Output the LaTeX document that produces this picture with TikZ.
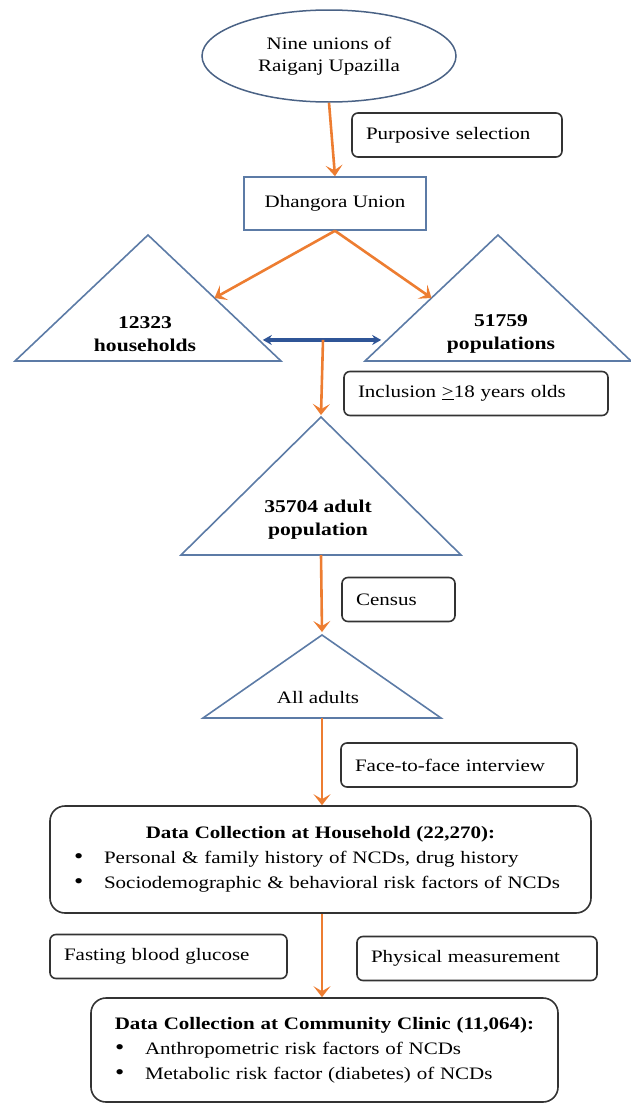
\documentclass[tikz,border=0pt]{standalone}
\usepackage{fontspec}
\setmainfont{Liberation Serif}[FakeStretch=1.2]
\usetikzlibrary{shapes.geometric,arrows.meta,calc}
\usepackage{xcolor}
\definecolor{pfeilorange}{HTML}{ED7D31}
\definecolor{rahmenblau}{HTML}{5C7BA6}
\definecolor{doppelblau}{HTML}{2F5597}

\newcommand\punkt{\hspace*{14pt}\makebox[30pt][l]{\fontsize{22}{0}\selectfont\textbullet}}

\begin{document}
\begin{tikzpicture}[x=1pt,y=-1pt,>={Stealth[length=11pt,width=17pt,inset=5pt]},
  schrift/.style={font=\fontsize{17.5}{22}\selectfont},
  kasten/.style={schrift, draw=black!80, line width=1.6pt, rounded corners=6pt, align=left,
    inner xsep=14pt, inner ysep=0pt, minimum height=44pt},
  gross/.style={draw=black!80, line width=1.6pt, rounded corners=15pt, align=left,
    inner xsep=10pt, inner ysep=0pt, font=\fontsize{17.5}{25}\selectfont},
  dreieck/.style={draw=rahmenblau, line width=1.6pt, line join=miter},
  pfeil/.style={->, draw=pfeilorange, line width=2.6pt},
  fett/.style={font=\fontsize{18}{23}\selectfont\bfseries, align=center}]

\useasboundingbox (0,0) rectangle (631,1103);

%Auswahl der Union
\node[ellipse, draw=rahmenblau!80!black, line width=1.5pt, minimum width=254pt, minimum height=92pt,
  inner sep=0pt, schrift, align=center] (neun) at (329,56) {Nine unions of\\Raiganj Upazilla};
\node[kasten, text width=182pt] (zweck) at (457,135) {Purposive selection};
\node[draw=rahmenblau, line width=1.6pt, minimum width=182pt, minimum height=53pt, schrift] (dhangora) at (335,203.5) {Dhangora Union};

\draw[pfeil] (neun.south) to (dhangora.north);


%Dreiecke: Haushalte und Bevoelkerung
\coordinate (hhSpitze) at (148,235);
\coordinate (hhLinks) at (15,361);
\coordinate (hhRechts) at (281,361);
\draw[dreieck] (hhLinks) -- (hhSpitze) -- (hhRechts) -- cycle;
\node[fett] (hhText) at (145,334) {12323\\households};

\coordinate (bvSpitze) at (498,235);
\coordinate (bvLinks) at (365,361);
\coordinate (bvRechts) at (631,361);
\draw[dreieck] (bvLinks) -- (bvSpitze) -- (bvRechts) -- cycle;
\node[fett] (bvText) at (501,334) {51759\\populations};

\draw[pfeil] (dhangora.south) to ($(hhSpitze)!0.5!(hhRechts)$);
\draw[pfeil] (dhangora.south) to ($(bvSpitze)!0.5!(bvLinks)$);

\coordinate (dpLinks) at ($(hhSpitze)!0.833!(hhRechts)$);
\coordinate (dpRechts) at ($(bvSpitze)!0.833!(bvLinks)$);
\draw[<->, >={Stealth[length=9pt,width=10pt]}, draw=doppelblau, line width=3.2pt, shorten <=4pt, shorten >=6pt] (dpLinks) to (dpRechts);
\coordinate (dpMitte) at ($(dpLinks)!0.5!(dpRechts)$);


%Erwachsene
\node[kasten, text width=236pt] (einschluss) at (476,393.5) {Inclusion \underline{>}18 years olds};

\coordinate (ewSpitze) at (321,417);
\coordinate (ewLinks) at (181,555);
\coordinate (ewRechts) at (461,555);
\draw[dreieck] (ewLinks) -- (ewSpitze) -- (ewRechts) -- cycle;
\node[fett] (ewText) at (318,520) {35704 adult\\population};

\draw[pfeil] (dpMitte) to ($(ewSpitze)+(0,-2)$);

\node[kasten, text width=85pt] (zensus) at (398.5,599.5) {Census};

\coordinate (alSpitze) at (322,635);
\coordinate (alLinks) at (203,718);
\coordinate (alRechts) at (441,718);
\draw[dreieck] (alLinks) -- (alSpitze) -- (alRechts) -- cycle;
\node[schrift] (alText) at (318,698) {All adults};

\draw[pfeil] (321,555) to ($(alSpitze)+(0,-3)$);

\node[kasten, text width=208pt] (interview) at (459,765) {Face-to-face interview};


%Datenerhebung
\node[gross, text width=521pt, minimum height=107pt] (haushalt) at (320.5,859.5)
  {\makebox[\linewidth]{\bfseries Data Collection at Household (22,270):}\\
   \punkt Personal \& family history of NCDs, drug history\\
   \punkt Sociodemographic \& behavioral risk factors of NCDs};

\draw[pfeil] (322,718) to (haushalt.north -| 322,0);

\node[kasten, text width=209pt] (glukose) at (168.5,956.5) {Fasting blood glucose};
\node[kasten, text width=212pt] (messung) at (477,958.5) {Physical measurement};

\node[gross, text width=447pt, minimum height=104pt] (klinik) at (324.5,1050)
  {\makebox[\linewidth]{\bfseries Data Collection at Community Clinic (11,064):}\\
   \punkt Anthropometric risk factors of NCDs\\
   \punkt Metabolic risk factor (diabetes) of NCDs};

\draw[pfeil] (haushalt.south -| 322,0) to (klinik.north -| 322,0);

\end{tikzpicture}
\end{document}
